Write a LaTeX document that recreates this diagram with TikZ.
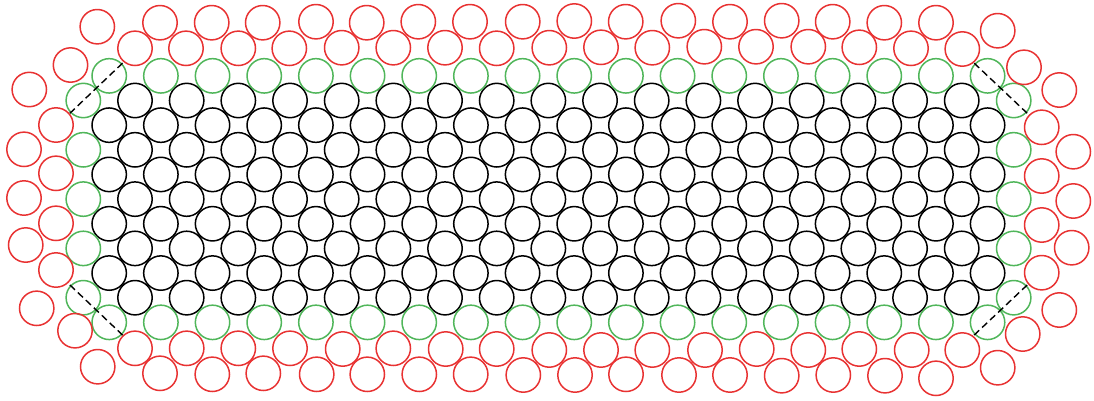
\documentclass[tikz,border=0pt]{standalone}
\usetikzlibrary{calc}
\definecolor{cred}{RGB}{232,50,50}
\definecolor{cgreen}{RGB}{80,182,90}
\tikzset{
  ballbase/.style={circle,draw,minimum size=34.4pt,inner sep=0pt,line width=1.5pt},
  blackball/.style={ballbase,draw=black},
  greenball/.style={ballbase,draw=cgreen},
  redball/.style={ballbase,draw=cred},
  cutline/.style={draw=black,line width=1.4pt,dash pattern=on 7pt off 4pt}
}
\begin{document}
\begin{tikzpicture}[x=1pt,y=-1pt]
\useasboundingbox (0,0) rectangle (1094,400);
% inner (black) circles
\foreach \j in {1,3,5,7,9}
  \foreach \k in {0,...,16}
    \node[blackball] (b\j-\k) at ({135+\k*51.67},{100.5+(\j-1)*24.65}) {};
\foreach \j in {2,4,6,8}
  \foreach \k in {0,...,17}
    \node[blackball] (b\j-\k) at ({109.2+\k*51.67},{100.5+(\j-1)*24.65}) {};
% green shell
\foreach \j in {0,10}
  \foreach \k in {0,...,17}
    \node[greenball] (g\j-\k) at ({109.2+\k*51.67},{100.5+(\j-1)*24.65}) {};
\foreach \j in {1,3,5,7,9} {
  \node[greenball] (gl\j) at (83.3,{100.5+(\j-1)*24.65}) {};
  \node[greenball] (gr\j) at (1013.7,{100.5+(\j-1)*24.65}) {};
}
% red outer circles
\foreach \p [count=\i] in {
  (97.3,26.7),(160,22.7),(211.7,22.7),(262.7,22.7),(316,21.7),(366.7,22.7),(418.3,21.7),(470,21.7),(522.7,21.7),(574.3,21),(625.7,21.7),(678.3,20.7),(730,21.7),(781.7,20.7),(832.7,21.7),(884.3,22.7),(936,22.7),(997.7,30.7),
  (135,48.3),(186,48.3),(238.3,48.3),(289.3,48.3),(341.7,47.7),(393.3,47.7),(445,47.7),(496.7,48.3),(549.3,47.7),(601,47.3),(652.3,47.7),(704.3,46.7),(756,46.7),(808.3,46.7),(859.3,47.3),(911,48.3),(962.3,49),
  (70.5,65),(29.3,89.5),(56,125),(24,149.3),(56,173.3),(24,198),(56,223.3),(25.7,245),(56,270),(36.7,308.3),(75,330.7),(97.7,366.7),
  (1024,67.3),(1059.3,90),(1041.7,127.3),(1073.3,151.7),(1041.7,176),(1073.3,201),(1041.7,225),(1071.7,247.7),(1041.7,272.7),(1059.3,310),(1022.7,334),(997.7,367.7),
  (135,348.3),(186.7,348.3),(238.3,348.3),(290,348.3),(342.7,349),(393.3,348.3),(445.7,349),(496.7,349),(549.3,350),(601,350),(652.3,350),(705,350),(756.7,349),(808.3,350),(859.3,349),(911.7,350),(962.3,350),
  (160,373.3),(212.3,374.3),(263.3,373.3),(316.7,374.3),(367.3,374.3),(419.3,374.3),(470.7,374.3),(523.3,375),(575,375),(626,374.3),(679,375),(730,375),(781.7,375.7),(833.3,375),(885,375.7),(936,378.3)}
  \node[redball] (r\i) at \p {};
% dashed cut lines through the corner green pairs
\draw[cutline] ($(g0-0)!-18.5pt!(gl1)$) -- ($(gl1)!-18.5pt!(g0-0)$);
\draw[cutline] ($(g0-17)!-18.5pt!(gr1)$) -- ($(gr1)!-18.5pt!(g0-17)$);
\draw[cutline] ($(gl9)!-18.5pt!(g10-0)$) -- ($(g10-0)!-18.5pt!(gl9)$);
\draw[cutline] ($(gr9)!-18.5pt!(g10-17)$) -- ($(g10-17)!-18.5pt!(gr9)$);
\end{tikzpicture}
\end{document}
